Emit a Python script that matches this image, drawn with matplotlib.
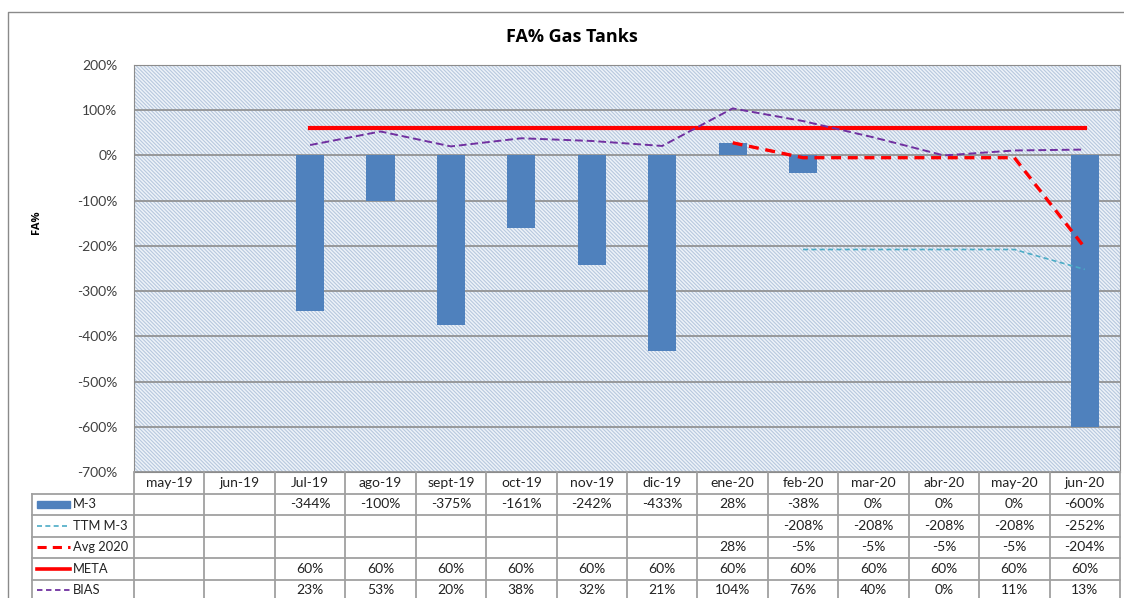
import numpy as np
import matplotlib
matplotlib.use('Agg')
import matplotlib.pyplot as plt
from matplotlib.patches import Rectangle
from matplotlib.lines import Line2D

# chart data (FA% per month, in %)
cats = ['may-19', 'jun-19', 'Jul-19', 'ago-19', 'sept-19', 'oct-19', 'nov-19',
        'dic-19', 'ene-20', 'feb-20', 'mar-20', 'abr-20', 'may-20', 'jun-20']
nan = np.nan
m3 = [nan, nan, -344, -100, -375, -161, -242, -433, 28, -38, 0, 0, 0, -600]
ttm = [nan, nan, nan, nan, nan, nan, nan, nan, nan, -208, -208, -208, -208, -252]
avg2020 = [nan, nan, nan, nan, nan, nan, nan, nan, 28, -5, -5, -5, -5, -204]
meta = [nan, nan, 60, 60, 60, 60, 60, 60, 60, 60, 60, 60, 60, 60]
bias = [nan, nan, 23, 53, 20, 38, 32, 21, 104, 76, 40, 0, 11, 13]
yticks = [200, 100, 0, -100, -200, -300, -400, -500, -600, -700]

plt.rcParams['font.family'] = ['Lato', 'DejaVu Sans']
plt.rcParams['hatch.color'] = '#B7C8DE'
plt.rcParams['hatch.linewidth'] = 0.8

W, H = 1124, 598
fig = plt.figure(figsize=(W / 100, H / 100), dpi=100)

def fbox(x0, y0, x1, y1):
    # pixel box (top-left origin) -> figure fraction [l, b, w, h]
    return [x0 / W, 1 - y1 / H, (x1 - x0) / W, (y1 - y0) / H]

# outer chart border
fig.add_artist(Line2D([8 / W, 8 / W, 1], [0, 1 - 12 / H, 1 - 12 / H],
                      transform=fig.transFigure, color='#8a8a8a', lw=1))

px0, px1, py0, py1 = 134, 1120, 65, 472
ax = fig.add_axes(fbox(px0, py0, px1, py1))
x = np.arange(len(cats))
ax.set_xlim(-0.5, len(cats) - 0.5)
ax.set_ylim(-700, 200)
ax.add_patch(Rectangle((0, 0), 1, 1, transform=ax.transAxes, facecolor='#EEF3F9',
                       edgecolor='#B7C8DE', hatch='\\\\\\\\\\\\\\\\\\', lw=0, zorder=0))
ax.set_axisbelow(True)
ax.yaxis.grid(True, color='#8c8c8c', lw=1.2)
ax.set_yticks(yticks)
ax.set_yticklabels([f'{v}%' for v in yticks], fontsize=10, color='#404040')
ax.tick_params(axis='y', length=0, pad=12)
ax.set_xticks([])
for s in ax.spines.values():
    s.set_color('#8c8c8c')

ax.bar(x, m3, width=0.4, color='#4F81BD', zorder=2)
ax.plot(x, ttm, color='#4BACC6', lw=1.2, ls=(0, (3, 2)), zorder=3)
ax.plot(x, meta, color='#FF0000', lw=3, zorder=3)
ax.plot(x, avg2020, color='#FF0000', lw=2.4, ls=(0, (3, 2)), zorder=4)
ax.plot(x, bias, color='#7030A0', lw=1.4, ls=(0, (4, 2)), zorder=4)

fig.text(572 / W, 1 - 37 / H, 'FA% Gas Tanks', ha='center', va='center',
         fontsize=13, fontweight='bold', family=['Open Sans', 'DejaVu Sans'])
fig.text(37 / W, 1 - 222 / H, 'FA%', ha='center', va='center', rotation=90,
         fontsize=8, fontweight='bold', family=['Open Sans', 'DejaVu Sans'])

# data table under the chart
colw = (px1 - px0) / len(cats)
tx0 = 32
rowh = 21.5
nrows = 6
tab = fig.add_axes(fbox(tx0, py1, px1, py1 + rowh * nrows))
xl = -0.5 - (px0 - tx0) / colw
tab.set_xlim(xl, len(cats) - 0.5)
tab.set_ylim(nrows, 0)
tab.axis('off')
gc = '#a0a0a0'
for r in range(1, nrows + 1):
    tab.plot([xl, len(cats) - 0.5], [r, r], color=gc, lw=1.3, clip_on=False)
for k in range(len(cats) + 1):
    tab.plot([k - 0.5, k - 0.5], [0, nrows], color=gc, lw=1.3, clip_on=False)
tab.plot([xl, xl], [1, nrows], color=gc, lw=1.3, clip_on=False)

for i, c in enumerate(cats):
    tab.text(i, 0.5, c, ha='center', va='center', fontsize=10, color='#222222')

rows = [('M-3', m3), ('TTM M-3', ttm), ('Avg 2020', avg2020), ('META', meta), ('BIAS', bias)]
kx0 = xl + (37 - tx0) / colw
kx1 = xl + (70 - tx0) / colw
lx = xl + (73 - tx0) / colw
for r, (name, vals) in enumerate(rows, start=1):
    yc = r + 0.5
    if name == 'M-3':
        tab.add_patch(Rectangle((kx0, yc - 0.17), kx1 - kx0, 0.34, color='#4F81BD', clip_on=False))
    elif name == 'TTM M-3':
        tab.plot([kx0, kx1], [yc, yc], color='#4BACC6', lw=1.2, ls=(0, (3, 2)), clip_on=False)
    elif name == 'Avg 2020':
        tab.plot([kx0, kx1], [yc, yc], color='#FF0000', lw=2.2, ls=(0, (3, 2)), clip_on=False)
    elif name == 'META':
        tab.plot([kx0, kx1], [yc, yc], color='#FF0000', lw=2.6, clip_on=False)
    else:
        tab.plot([kx0, kx1], [yc, yc], color='#7030A0', lw=1.3, ls=(0, (3, 2)), clip_on=False)
    tab.text(lx, yc, name, ha='left', va='center', fontsize=9.3, color='#222222')
    for i, v in enumerate(vals):
        if not np.isnan(v):
            tab.text(i, yc, f'{v:.0f}%', ha='center', va='center', fontsize=10, color='#222222')

fig.savefig('out.png', dpi=100)
